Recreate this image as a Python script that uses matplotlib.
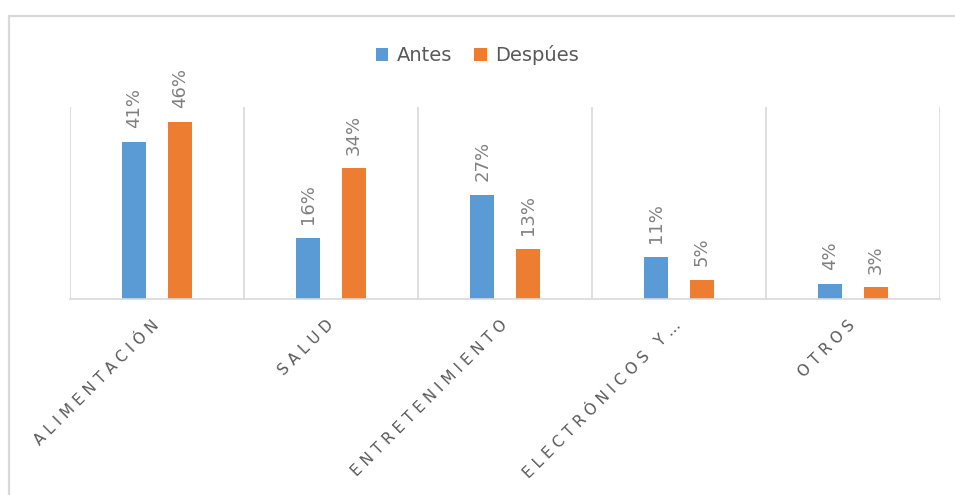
import numpy as np
import matplotlib.pyplot as plt
from matplotlib.patches import Rectangle

categorias = ['ALIMENTACIÓN', 'SALUD', 'ENTRETENIMIENTO', 'ELECTRÓNICOS Y…', 'OTROS']
antes = [0.41, 0.16, 0.27, 0.11, 0.04]
despues = [0.46, 0.34, 0.13, 0.05, 0.03]

azul = '#5B9BD5'
naranja = '#ED7D31'
gris = '#D9D9D9'

fig = plt.figure(figsize=(9.55, 4.95), dpi=100)
# marco exterior del grafico
fig.patches.append(Rectangle((9 / 955, -0.1), 1.1, 1.1 - 16 / 495,
                             transform=fig.transFigure, fill=False,
                             edgecolor=gris, linewidth=1.6))
ax = fig.add_axes([70 / 955, 196 / 495, 870 / 955, 192 / 495])

x = np.arange(len(categorias))
w = 0.138
b1 = ax.bar(x - 0.13, antes, w, color=azul, label='Antes')
b2 = ax.bar(x + 0.13, despues, w, color=naranja, label='Despúes')

for barras in (b1, b2):
    for r in barras:
        v = r.get_height()
        ax.annotate('{:.0f}%'.format(v * 100),
                    (r.get_x() + r.get_width() / 2, v),
                    xytext=(0, 10), textcoords='offset points',
                    rotation=90, ha='center', va='bottom',
                    fontsize=13, color='#808080')

ax.set_xlim(-0.5, 4.5)
ax.set_ylim(0, 0.5)
ax.set_yticks([])
for s in ['top', 'left', 'right']:
    ax.spines[s].set_visible(False)
ax.spines['bottom'].set_color(gris)
ax.spines['bottom'].set_linewidth(1.2)
for b in np.arange(-0.5, 5, 1):
    ax.axvline(b, color=gris, linewidth=1.2, zorder=0)

espaciado = [' '.join(c) for c in categorias]
ax.set_xticks(x)
ax.set_xticklabels(espaciado, rotation=45, ha='right', va='center',
                   rotation_mode='anchor', fontsize=11, color='#595959')
ax.tick_params(axis='x', length=0, pad=17)

fig.legend(loc='center', bbox_to_anchor=(0.5, 1 - 55 / 495), ncol=2,
           frameon=False, fontsize=14, labelcolor='#595959',
           handlelength=0.65, handleheight=0.65, handletextpad=0.45,
           columnspacing=1.1)

fig.savefig('out.png', dpi=100)
